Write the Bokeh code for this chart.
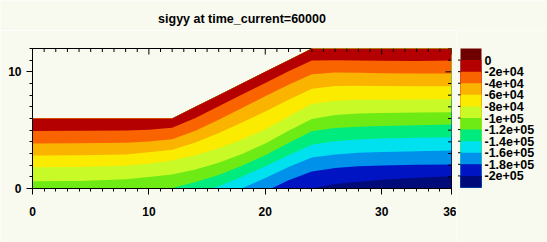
from bokeh.plotting import figure
from bokeh.models import Range1d, LinearAxis, FixedTicker
from bokeh.layouts import row, column
from bokeh.embed import file_html
from bokeh.resources import INLINE
from bokeh.core.properties import value

# ---------------- data ----------------
title_text = "sigyy at time_current=60000"

x_pts = [0, 4, 8, 10, 12, 14, 16, 18, 20, 22, 24, 26, 28, 30, 33, 36]
surface = [6, 6, 6, 6, 6, 7, 8, 9, 10, 11, 12, 12, 12, 12, 12, 12]

# lower edge (y) of each stress band along x_pts
edge_m20k = [4.93, 4.94, 4.97, 5.03, 5.2, 6.05, 7.05, 8.05, 9.05, 10.05, 10.98, 11.0, 10.97, 10.94, 10.93, 10.97]
edge_m40k = [3.86, 3.87, 3.92, 4.03, 4.22, 4.95, 5.9, 6.9, 7.9, 8.9, 9.8, 9.95, 9.92, 9.88, 9.86, 9.86]
edge_m60k = [2.82, 2.84, 2.92, 3.1, 3.32, 3.95, 4.75, 5.65, 6.6, 7.6, 8.55, 8.78, 8.8, 8.78, 8.77, 8.77]
edge_m80k = [1.83, 1.85, 1.95, 2.12, 2.4, 2.85, 3.45, 4.2, 5.05, 6.15, 7.25, 7.52, 7.6, 7.6, 7.62, 7.64]
edge_m100k = [0.62, 0.65, 0.8, 0.98, 1.2, 1.62, 2.2, 2.95, 3.85, 4.95, 5.95, 6.3, 6.43, 6.48, 6.52, 6.54]
edge_m120k = [-0.6, -0.55, -0.35, -0.12, 0.05, 0.55, 1.15, 1.95, 2.85, 3.9, 4.9, 5.18, 5.3, 5.36, 5.43, 5.48]
edge_m140k = [-1.75, -1.7, -1.45, -1.15, -0.85, -0.35, 0.2, 1.0, 1.9, 2.85, 3.75, 4.05, 4.2, 4.28, 4.35, 4.4]
edge_m160k = [-2.9, -2.85, -2.6, -2.3, -1.95, -1.4, -0.75, 0.02, 0.9, 1.85, 2.65, 2.92, 3.06, 3.13, 3.2, 3.26]
edge_m180k = [-4.0, -3.95, -3.7, -3.4, -3.05, -2.5, -1.8, -1.0, -0.25, 0.7, 1.45, 1.75, 1.9, 1.98, 2.03, 2.06]
edge_m200k = [-5.1, -5.05, -4.8, -4.5, -4.15, -3.6, -2.95, -2.2, -1.45, -0.6, 0.0, 0.38, 0.58, 0.75, 0.92, 1.05]
edge_floor = [-6] * len(x_pts)

# colour levels (band edges) and palette, top to bottom
level_edges = [20000, 0, -20000, -40000, -60000, -80000, -100000, -120000,
               -140000, -160000, -180000, -200000, -220000]
palette = ["#6E0000", "#B40000", "#FA6400", "#FAB400", "#FAEB00", "#C8FA28",
           "#6EEB14", "#00EB7D", "#00E1F0", "#0091EB", "#0014C3", "#000A78"]
tick_values = [0, -20000, -40000, -60000, -80000, -100000, -120000,
               -140000, -160000, -180000, -200000]
tick_labels = ["0", "-2e+04", "-4e+04", "-6e+04", "-8e+04", "-1e+05",
               "-1.2e+05", "-1.4e+05", "-1.6e+05", "-1.8e+05", "-2e+05"]

x_major = [0, 10, 20, 30, 36]
x_minor = list(range(0, 37))
y_major = [0, 10]
y_minor = list(range(0, 13))

BG = "#F8FAF0"
FONT = "Liberation Sans"
TITLE_H = 30

# ---------------- title strip ----------------
tf = figure(width=547, height=TITLE_H, x_range=Range1d(0, 547), y_range=Range1d(0, TITLE_H),
            output_backend="svg", toolbar_location=None,
            x_axis_location=None, y_axis_location=None, min_border=0,
            background_fill_color=BG, border_fill_color=BG, outline_line_color=None)
tf.frame_align = False
tf.grid.visible = False
tf.text(x=[241.5], y=[TITLE_H - 18], text=[title_text], text_font=value(FONT),
        text_font_size="12.5px", text_font_style="bold", text_color="black",
        text_align="center", text_baseline="middle")

# ---------------- main plot ----------------
X0, X1, Y0, Y1 = 0, 36, 0, 12
FRAME_W, FRAME_H = 419, 140
p = figure(width=456, height=242 - TITLE_H, x_range=Range1d(X0, X1), y_range=Range1d(Y0, Y1),
           output_backend="svg", toolbar_location=None,
           x_axis_location=None, y_axis_location=None,
           min_border_left=32, min_border_right=5, min_border_top=48 - TITLE_H,
           min_border_bottom=54,
           background_fill_color=BG, border_fill_color=BG,
           outline_line_color="black", outline_line_width=1)
p.frame_align = False
p.grid.visible = False

bands_bottom = [edge_floor, edge_m200k, edge_m180k, edge_m160k, edge_m140k, edge_m120k,
                edge_m100k, edge_m80k, edge_m60k, edge_m40k, edge_m20k]
band_colors = palette[1:][::-1]  # navy ... red
for lower, col in zip(bands_bottom, band_colors):
    p.varea(x=x_pts, y1=lower, y2=surface, fill_color=col)

# inward ticks on the top and right edges (drawn inside the frame)
ux = (X1 - X0) / FRAME_W   # data units per pixel
uy = (Y1 - Y0) / FRAME_H
top_len = [6 * uy if t in x_major else 3.5 * uy for t in x_minor]
p.segment(x0=x_minor, x1=x_minor, y0=[Y1] * len(x_minor),
          y1=[Y1 - L for L in top_len], line_color="black", line_width=1)
right_len = [6 * ux if t in y_major else 3.5 * ux for t in y_minor]
p.segment(x0=[X1] * len(y_minor), x1=[X1 - L for L in right_len],
          y0=y_minor, y1=y_minor, line_color="black", line_width=1)

def style_axis(ax):
    ax.axis_line_color = "black"
    ax.major_tick_line_color = "black"
    ax.minor_tick_line_color = "black"
    ax.major_tick_out, ax.major_tick_in = 6, 0
    ax.minor_tick_out, ax.minor_tick_in = 3, 0
    ax.major_label_text_font = FONT
    ax.major_label_text_font_size = "12px"
    ax.major_label_text_font_style = "bold"
    ax.major_label_text_color = "black"

xb = LinearAxis(ticker=FixedTicker(ticks=x_major, minor_ticks=x_minor))
style_axis(xb)
xb.major_label_standoff = 12
yl = LinearAxis(ticker=FixedTicker(ticks=y_major, minor_ticks=y_minor))
style_axis(yl)
yl.major_label_standoff = 5
p.add_layout(xb, "below")
p.add_layout(yl, "left")

# ---------------- colour bar ----------------
k = (level_edges[0] - level_edges[-1]) / 139.0
cb = figure(width=91, height=242 - TITLE_H, x_range=Range1d(0, 91),
            y_range=Range1d(level_edges[-1] - 55 * k, level_edges[0] + (48 - TITLE_H) * k),
            output_backend="svg", toolbar_location=None,
            x_axis_location=None, y_axis_location=None, min_border=0,
            background_fill_color=BG, border_fill_color=BG, outline_line_color=None)
cb.frame_align = False
cb.grid.visible = False
bar_bottom = [level_edges[-1]] * len(palette)
cb.quad(left=4, right=25, top=level_edges[:-1], bottom=bar_bottom,
        fill_color=palette, line_color=None)
cb.segment(x0=1.5, x1=4, y0=tick_values, y1=tick_values, line_color="black", line_width=1)
cb.text(x=28, y=tick_values, text=tick_labels, text_font=value(FONT),
        text_font_size="12.5px", text_font_style="bold", text_color="black",
        text_baseline="middle", text_align="left")

layout = column(tf, row(p, cb))
open("out.html", "w").write(file_html(layout, INLINE))
